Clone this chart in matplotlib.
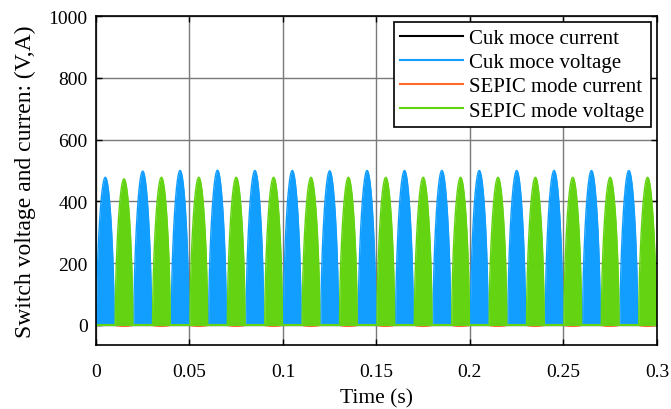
import numpy as np
import matplotlib.pyplot as plt
from matplotlib.lines import Line2D

plt.rcParams['font.family'] = ['Liberation Serif', 'DejaVu Serif']

# peak times (s) and peak values (V) of each switch-voltage pulse
cuk_peak_t = [0.005, 0.025, 0.045, 0.065, 0.085, 0.105, 0.125, 0.145,
              0.165, 0.185, 0.205, 0.225, 0.245, 0.265, 0.285]
cuk_peak_v = [478, 498, 500, 501, 500, 500, 499, 500,
              500, 500, 500, 500, 500, 500, 500]
sepic_peak_t = [0.015, 0.035, 0.055, 0.075, 0.095, 0.115, 0.135, 0.155,
                0.175, 0.195, 0.215, 0.235, 0.255, 0.275, 0.295]
sepic_peak_v = [473, 478, 478, 478, 478, 478, 478, 478,
                478, 478, 478, 478, 478, 478, 478]
# currents stay small (A)
cuk_current_peak = 1.5
sepic_current_peak = -4
# start-up transient at t = 0
start_t = [0, 0.0007]
cuk_start_v = [330, 330]
sepic_start_v = [95, 95]

c_black = '#000000'
c_blue = '#129EFF'
c_orange = '#FF6929'
c_green = '#64D412'

pulse_w = 0.0095


def pulse_train(peaks_t, peaks_v):
    ts, vs = [], []
    for pt, pv in zip(peaks_t, peaks_v):
        t = np.linspace(pt - pulse_w / 2, pt + pulse_w / 2, 200)
        v = pv * np.sin(np.pi * (t - t[0]) / pulse_w).clip(0) ** 0.55
        ts.append(t)
        vs.append(v)
    t = np.concatenate(ts)
    v = np.concatenate(vs)
    keep = (t >= 0) & (t <= 0.3)
    return t[keep], v[keep]


fig = plt.figure(figsize=(6.71, 4.10), dpi=100)
ax = fig.add_axes([0.143, 0.156, 0.836, 0.8025])

# Cuk current (sits under the SEPIC voltage pulses)
t, v = pulse_train(sepic_peak_t, [cuk_current_peak] * len(sepic_peak_t))
ax.plot(t, v, color=c_black, lw=0.8)

t, v = pulse_train(cuk_peak_t, cuk_peak_v)
ax.fill_between(t, 0, v, color=c_blue, lw=0)
ax.plot(t, v, color=c_blue, lw=1)
ax.fill_between(start_t, 0, cuk_start_v, color=c_blue, lw=0)
ax.plot([0, 0.3], [0, 0], color=c_blue, lw=1.5)

t, v = pulse_train(sepic_peak_t, [sepic_current_peak] * len(sepic_peak_t))
ax.plot(t, v, color=c_orange, lw=1.2)

t, v = pulse_train(sepic_peak_t, sepic_peak_v)
ax.fill_between(t, 0, v, color=c_green, lw=0)
ax.plot(t, v, color=c_green, lw=1)
ax.fill_between(start_t, 0, sepic_start_v, color=c_green, lw=0)
ax.plot([0, 0.3], [0, 0], color=c_green, lw=1.5)

ax.set_xlim(0, 0.3)
ax.set_ylim(-65, 1000)
ax.set_xticks([0, 0.05, 0.1, 0.15, 0.2, 0.25, 0.3])
ax.set_xticklabels(['0', '0.05', '0.1', '0.15', '0.2', '0.25', '0.3'])
ax.set_yticks([0, 200, 400, 600, 800, 1000])
ax.tick_params(direction='in', top=True, right=True, labelsize=14,
               length=4, width=1, pad=6)
ax.tick_params(axis='x', pad=13)
ax.grid(True, color='#7a7a7a', lw=1)
ax.set_axisbelow(True)
for s in ax.spines.values():
    s.set_linewidth(1.2)

ax.set_xlabel('Time (s)', fontsize=15.5, labelpad=6)
ax.set_ylabel('Switch voltage and curren: (V,A)', fontsize=17, labelpad=9)

handles = [Line2D([], [], color=c_black, lw=1.5),
           Line2D([], [], color=c_blue, lw=1.5),
           Line2D([], [], color=c_orange, lw=1.5),
           Line2D([], [], color=c_green, lw=1.5)]
labels = ['Cuk moce current', 'Cuk moce voltage',
          'SEPIC mode current', 'SEPIC mode voltage']
leg = ax.legend(handles, labels, loc='upper right', fontsize=15,
                fancybox=False, edgecolor='black', framealpha=1,
                borderaxespad=0.3, handlelength=3.0, labelspacing=0.22,
                borderpad=0.3, handletextpad=0.3)
leg.get_frame().set_linewidth(1.2)

fig.savefig('out.png', dpi=100)
